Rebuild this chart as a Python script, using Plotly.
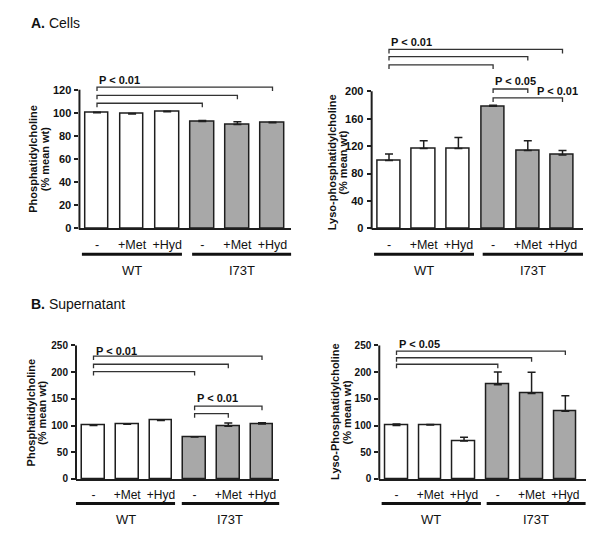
import plotly.graph_objects as go

W, H = 600, 546

# ---------------- data ----------------
categories = ["-", "+Met", "+Hyd", "-", "+Met", "+Hyd"]
group_names = ["WT", "I73T"]

pc_cells = [100, 99, 101, 92.5, 90, 91.5]
pc_cells_err = [0.5, 0.5, 0.3, 0.8, 2.2, 0.4]

lpc_cells = [99, 116.5, 116.5, 178, 113.5, 107]
lpc_cells_err = [9.5, 11.5, 16, 1.5, 14.5, 6.5]

pc_sup = [100, 102.5, 109.5, 78.5, 98.5, 103]
pc_sup_err = [0.5, 1, 0.8, 0.3, 6.5, 2.5]

lpc_sup = [100, 101, 71, 176.5, 160, 127]
lpc_sup_err = [3, 1, 7, 24, 40, 29]

# significance brackets: (from bar, to bar, height in data units)
pc_cells_brackets = [(0, 5, 122.2), (0, 4, 115.1), (0, 3, 108.3)]
pc_cells_labels = [(0, 128.8, "P < 0.01")]

lpc_cells_brackets = [(0, 5, 261), (0, 4, 250.5), (0, 3, 238.4), (3, 4, 203.3), (3, 5, 190.3)]
lpc_cells_labels = [(0, 272.5, "P < 0.01"), (3, 215.3, "P < 0.05"), (4.21, 200, "P < 0.01")]

pc_sup_brackets = [(0, 5, 230.2), (0, 4, 214.8), (0, 3, 201.1), (3, 5, 136.3), (3, 4, 122.2)]
pc_sup_labels = [(0, 239.4, "P < 0.01"), (3, 151.1, "P < 0.01")]

lpc_sup_brackets = [(0, 5, 239.4), (0, 4, 227), (0, 3, 214.8)]
lpc_sup_labels = [(0, 251.9, "P < 0.05")]

# ---------------- layout geometry (pixels) ----------------
FONT = "Arial, Liberation Sans, sans-serif"
INK = "#1e1e1e"
GRAY = "#a8a8a8"

panels = [
    dict(vals=pc_cells, err=pc_cells_err, br=pc_cells_brackets, lab=pc_cells_labels,
         c0=97, s=35.1, xmin=-0.5, xmax=5.53, y0=231, yk=90.7, T=120, dt=20, ytop=30,
         ytitle=["Phosphatidylcholine", "(% mean wt)"], tx=[33.5, 45], ty=161,
         gl_y=257, gl_lab_y=273, tstand=4, xfs=12.5,
         segs=[(-0.43, 2.42), (2.71, 5.53)], tfs=11),
    dict(vals=lpc_cells, err=lpc_cells_err, br=lpc_cells_brackets, lab=lpc_cells_labels,
         c0=389, s=34.7, xmin=-0.5, xmax=5.59, y0=231, yk=92.3, T=200, dt=40, ytop=30,
         ytitle=["Lyso-phosphatidylcholine", "(% mean wt)"], tx=[332, 343.5], ty=164,
         gl_y=257, gl_lab_y=273, tstand=4, xfs=12.5,
         segs=[(-0.43, 2.45), (2.70, 5.59)], tfs=11),
    dict(vals=pc_sup, err=pc_sup_err, br=pc_sup_brackets, lab=pc_sup_labels,
         c0=93.5, s=33.7, xmin=-0.52, xmax=5.51, y0=484.3, yk=349.3, T=250, dt=50, ytop=335,
         ytitle=["Phosphatidylcholine", "(% mean wt)"], tx=[30.5, 42], ty=417.5,
         gl_y=509, gl_lab_y=525, tstand=4, xfs=12,
         segs=[(-0.52, 2.42), (2.62, 5.51)], tfs=10),
    dict(vals=lpc_sup, err=lpc_sup_err, br=lpc_sup_brackets, lab=lpc_sup_labels,
         c0=396.5, s=33.77, xmin=-0.51, xmax=5.6, y0=484.3, yk=349.3, T=250, dt=50, ytop=335,
         ytitle=["Lyso-Phosphatidylcholine", "(% mean wt)"], tx=[335, 346.5], ty=416.5,
         gl_y=509, gl_lab_y=525, tstand=4, xfs=12,
         segs=[(-0.44, 2.5), (2.67, 5.6)], tfs=10),
]

fig = go.Figure()
shapes = []
annotations = []


def pxx(p, x):
    return p["c0"] + x * p["s"]


def pxy(p, y):
    return p["y0"] - y * (p["y0"] - p["yk"]) / p["T"]


def paper_x(px):
    return px / W


def paper_y(py):
    return 1 - py / H


for i, p in enumerate(panels):
    n = "" if i == 0 else str(i + 1)
    xa, ya = "x" + n, "y" + n
    xs = list(range(len(p["vals"])))
    colors = ["white"] * 3 + [GRAY] * 3
    fig.add_trace(go.Bar(
        x=xs, y=p["vals"], width=0.67, xaxis=xa, yaxis=ya,
        marker=dict(color=colors, line=dict(color=INK, width=1.5)),
        error_y=dict(type="data", symmetric=False, array=p["err"],
                     arrayminus=[0] * len(p["err"]), color=INK, thickness=1.5, width=4),
        showlegend=False, hoverinfo="skip",
    ))
    ytop_val = p["T"] * (p["y0"] - p["ytop"]) / (p["y0"] - p["yk"])
    dom_x = [paper_x(pxx(p, p["xmin"])), paper_x(pxx(p, p["xmax"]))]
    dom_y = [paper_y(p["y0"]), paper_y(p["ytop"])]
    fig.layout["xaxis" + n] = dict(
        domain=dom_x, range=[p["xmin"], p["xmax"]], anchor=ya,
        showline=True, linecolor=INK, linewidth=2, showgrid=False, zeroline=False,
        tickmode="array", tickvals=xs, ticktext=categories, ticks="",
        tickfont=dict(family=FONT, size=p["xfs"], color="#111"), ticklabelstandoff=p["tstand"],
    )
    fig.layout["yaxis" + n] = dict(
        domain=dom_y, range=[0, ytop_val], anchor=xa,
        showline=False, showgrid=False, zeroline=False,
        tickmode="array", tickvals=list(range(0, p["T"] + 1, p["dt"])),
        ticks="outside", ticklen=4, tickwidth=1.5, tickcolor=INK,
        tickfont=dict(family=FONT, size=p["tfs"], color="#111", weight="bold"),
        ticklabelstandoff=1,
    )
    # y axis line (only up to top tick)
    shapes.append(dict(type="line", xref="paper", yref="paper",
                       x0=dom_x[0], x1=dom_x[0],
                       y0=paper_y(p["y0"] + 1), y1=paper_y(p["yk"]),
                       line=dict(color=INK, width=2)))
    # significance brackets
    for (a, b, h) in p["br"]:
        xa0, xb0, yy = paper_x(pxx(p, a)), paper_x(pxx(p, b)), paper_y(pxy(p, h))
        ylow = paper_y(pxy(p, h) + 4)
        shapes.append(dict(type="path", xref="paper", yref="paper",
                           path=f"M {xa0},{ylow} L {xa0},{yy} L {xb0},{yy} L {xb0},{ylow}",
                           line=dict(color="#333", width=1.3)))
    for (x, y, t) in p["lab"]:
        annotations.append(dict(xref="paper", yref="paper",
                                x=paper_x(pxx(p, x)), y=paper_y(pxy(p, y)),
                                text=t, showarrow=False, xanchor="left", yanchor="middle",
                                font=dict(family=FONT, size=11, color="#111", weight="bold")))
    # group lines and labels
    for (sa, sb), g in zip(p["segs"], group_names):
        shapes.append(dict(type="line", xref="paper", yref="paper",
                           x0=paper_x(pxx(p, sa)), x1=paper_x(pxx(p, sb)),
                           y0=paper_y(p["gl_y"]), y1=paper_y(p["gl_y"]),
                           line=dict(color="#111", width=3)))
        annotations.append(dict(xref="paper", yref="paper",
                                x=paper_x(pxx(p, (sa + sb) / 2)), y=paper_y(p["gl_lab_y"]),
                                text=g, showarrow=False, xanchor="center", yanchor="middle",
                                font=dict(family=FONT, size=13, color="#111")))
    # y titles
    for t, tx in zip(p["ytitle"], p["tx"]):
        annotations.append(dict(xref="paper", yref="paper", x=paper_x(tx), y=paper_y(p["ty"]),
                                text=t, textangle=-90, showarrow=False,
                                xanchor="center", yanchor="middle",
                                font=dict(family=FONT, size=11, color="#111", weight="bold")))

annotations.append(dict(xref="paper", yref="paper", x=paper_x(29), y=paper_y(23.5),
                        text="<b>A.</b> Cells", showarrow=False, xanchor="left", yanchor="middle",
                        font=dict(family=FONT, size=14, color="#111")))
annotations.append(dict(xref="paper", yref="paper", x=paper_x(29), y=paper_y(307),
                        text="<b>B.</b> Supernatant", showarrow=False, xanchor="left",
                        yanchor="middle", font=dict(family=FONT, size=14, color="#111")))

fig.update_layout(
    width=W, height=H, margin=dict(l=0, r=0, t=0, b=0),
    paper_bgcolor="white", plot_bgcolor="white",
    shapes=shapes, annotations=annotations, bargap=0,
)

fig.write_html("out.html", config={"displayModeBar": False},
               post_script="document.body.style.margin='0px';document.body.style.overflow='hidden';")
